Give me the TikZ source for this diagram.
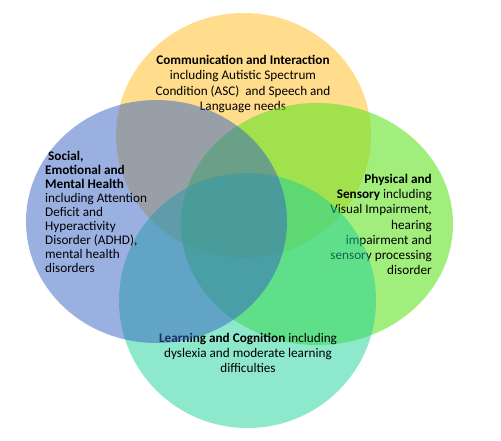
\documentclass[tikz,border=0pt]{standalone}
\usepackage{fontspec}
\setmainfont{Carlito}
\definecolor{cyel}{RGB}{255,187,25}
\definecolor{cblu}{RGB}{53,97,193}
\definecolor{cgrn}{RGB}{100,227,37}
\definecolor{ctea}{RGB}{29,209,153}
\begin{document}
\begin{tikzpicture}[x=1pt,y=-1pt,
  blob/.style={fill opacity=0.5},
  lbl/.style={inner sep=0pt,font=\fontsize{13.2}{15.3}\selectfont,text=black}]
\useasboundingbox (0,0) rectangle (501,440);
% yellow
\fill[cyel,blob] (243.5,135.5) ellipse [x radius=127.5, y radius=122.5];
\node[lbl,align=center] (comm) at (243,84) {\textbf{Communication and Interaction}\\including Autistic Spectrum\\Condition (ASC)\ \ and Speech and\\Language needs};
% green
\fill[cgrn,fill opacity=0.6] (317,224) ellipse [x radius=136, y radius=121];
\node[lbl,align=right,anchor=east] (phys) at (432,224.5) {\textbf{Physical and}\\\textbf{Sensory} including\\Visual Impairment,\\hearing\\impairment and\\sensory processing\\disorder};
% teal
\fill[ctea,blob] (247.5,300.5) ellipse [x radius=128.5, y radius=127.5];
\node[lbl,align=center] (lern) at (248,353) {\textbf{Learning and Cognition} including\\dyslexia and moderate learning\\difficulties};
% blue
\fill[cblu,blob] (156.5,221.5) ellipse [x radius=130.5, y radius=121.5];
\node[lbl,align=left,anchor=west,font=\fontsize{13.2}{14}\selectfont] (semh) at (45,212) {\hspace{3pt}\textbf{Social,}\\\textbf{Emotional and}\\\textbf{Mental Health}\\including Attention\\Deficit and\\Hyperactivity\\Disorder (ADHD),\\mental health\\disorders};
\end{tikzpicture}
\end{document}
